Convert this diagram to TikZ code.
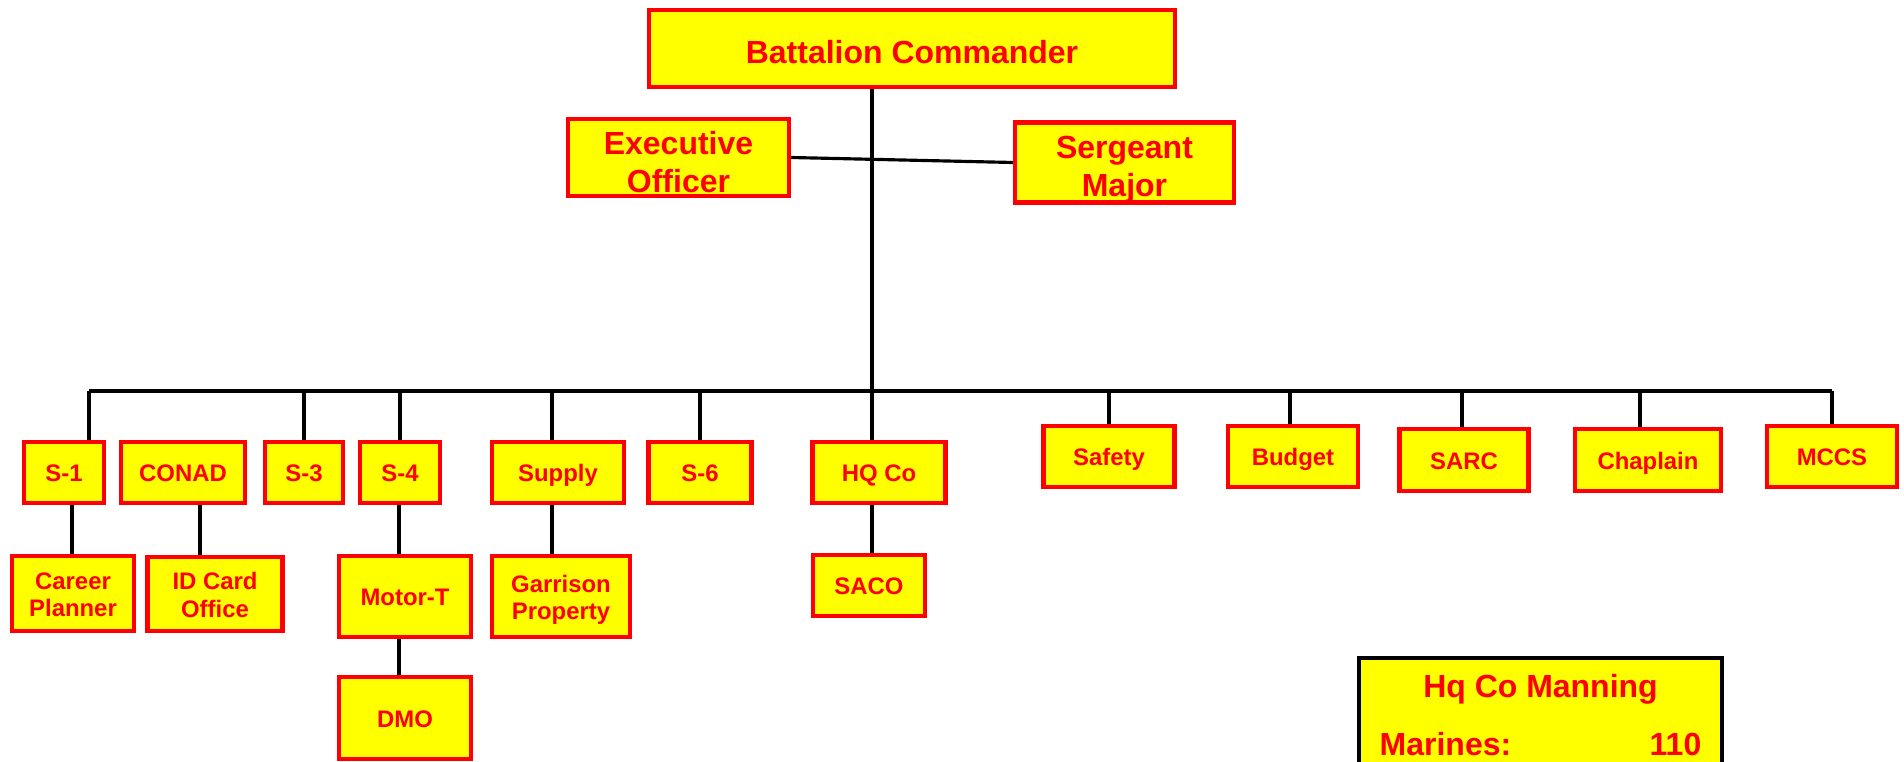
\documentclass[tikz,border=0pt]{standalone}
\usepackage{fontspec}
\setmainfont{Liberation Sans}
\usetikzlibrary{positioning, backgrounds}

\definecolor{boxyellow}{RGB}{255,255,0}
\definecolor{boxred}{RGB}{255,0,0}

\newcommand{\chieffont}{\fontsize{9.1}{10.8}\selectfont\bfseries}
\newcommand{\unitfont}{\fontsize{6.8}{7.8}\selectfont\bfseries}
\newcommand{\chiefstrut}{\rule[-0.07cm]{0pt}{0.44cm}}
\newcommand{\unitstrut}{\rule[-0.05cm]{0pt}{0.29cm}}

\begin{document}
\begin{tikzpicture}[
    box/.style={draw=boxred, fill=boxyellow, line width=1.2pt, text=boxred, align=center, inner sep=0pt},
    unit/.style={box, font=\unitfont, execute at begin node=\unitstrut, execute at end node=\unitstrut},
    chief/.style={box, font=\chieffont, minimum height=0.77cm, execute at begin node=\chiefstrut, execute at end node=\chiefstrut},
    chieftwo/.style={box, font=\chieffont, minimum height=0.77cm},
    link/.style={draw=black, line width=0.9pt}
  ]
  \useasboundingbox (0,0) rectangle (19.04,7.62);

  % Command group
  \node[chief, minimum width=5.26cm] (bc) at (9.12,7.135) {Battalion Commander};
  \node[chieftwo, minimum width=2.21cm] (xo) at (6.785,6.045) {\rule{0pt}{0.32cm}Executive\\Officer};
  \node[chieftwo, minimum width=2.19cm, minimum height=0.80cm] (sgm) at (11.245,5.995) {\rule{0pt}{0.30cm}Sergeant\\\smash{Major}};

  % Staff sections and their offices
  \foreach \n/\x/\y/\w/\h/\t in {s1/0.64/2.895/0.80/0.61/S-1, conad/1.83/2.895/1.24/0.61/CONAD,
      s3/3.04/2.895/0.78/0.61/S-3, s4/4.00/2.895/0.80/0.61/S-4, supply/5.58/2.895/1.32/0.61/Supply,
      s6/7.00/2.895/1.03/0.61/S-6, hqco/8.79/2.895/1.33/0.61/HQ Co,
      safety/11.09/3.055/1.31/0.61/Safety, budget/12.93/3.055/1.30/0.61/Budget,
      sarc/14.64/3.02/1.29/0.62/SARC, chaplain/16.48/3.02/1.46/0.62/Chaplain,
      mccs/18.32/3.055/1.30/0.61/MCCS,
      cp/0.73/1.685/1.22/0.75/\unitstrut Career\\Planner, idc/2.15/1.68/1.35/0.74/\unitstrut ID Card\\Office,
      motor/4.05/1.655/1.32/0.81/Motor-T, garr/5.61/1.655/1.38/0.81/\unitstrut Garrison\\Property,
      saco/8.69/1.765/1.12/0.61/SACO, dmo/4.05/0.44/1.32/0.82/DMO} {
    \node[unit, minimum width=\w cm, minimum height=\h cm] (\n) at (\x,\y) {\t};
  }

  % Manning box
  \node[draw=black, fill=boxyellow, line width=1pt, minimum width=3.63cm, minimum height=2cm, anchor=north] (manning) at (15.405,1.06) {};
  \node[text=boxred, font=\chieffont, inner sep=0pt] (mantitle) at (15.405,0.725) {Hq Co Manning};
  \node[text=boxred, font=\chieffont, inner sep=0pt, anchor=west] (marines) at (13.79,0.18) {Marines:};
  \node[text=boxred, font=\chieffont, inner sep=0pt, anchor=east] (count) at (17.02,0.18) {110};

  \begin{pgfonlayer}{background}
    \coordinate (bus) at (0,3.71);

    % Trunk and command line
    \path ([xshift=-0.07cm]hqco.north) coordinate (trunk);
    \draw[link] (trunk) -- (trunk |- bc.south);
    \draw[link] (xo.east) -- (sgm.west);

    % Drops from the bus
    \foreach \n/\dx in {s1/0.25, s3/0, s4/0, supply/-0.06, s6/0, safety/0, budget/-0.03, sarc/-0.02, chaplain/-0.08, mccs/0} {
      \path ([xshift=\dx cm]\n.north) coordinate (d-\n);
      \draw[link] (d-\n) -- (d-\n |- bus);
    }
    \draw[link] (d-s1 |- bus) -- (d-mccs |- bus);

    % Offices below their sections
    \foreach \a/\b/\dx in {s1/cp/-0.01, conad/idc/-0.15, s4/motor/-0.06, motor/dmo/-0.06, supply/garr/-0.09, hqco/saco/0.03} {
      \path ([xshift=\dx cm]\b.north) coordinate (u-\b);
      \draw[link] (u-\b) -- (u-\b |- \a.south);
    }
  \end{pgfonlayer}

\end{tikzpicture}
\end{document}
